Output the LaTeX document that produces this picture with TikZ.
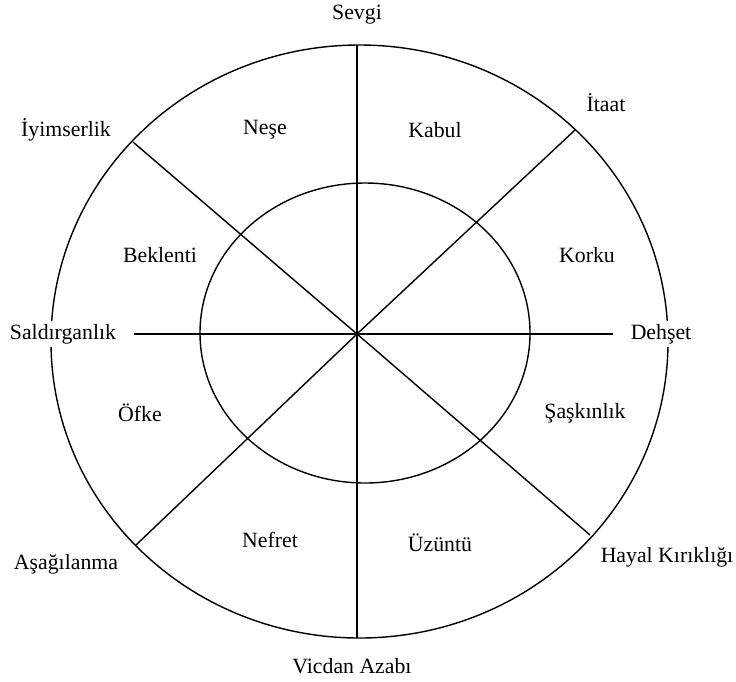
\documentclass[tikz,border=0pt]{standalone}
\usepackage{fontspec}
\setmainfont{Liberation Serif}
\usepackage{tikz}
\usetikzlibrary{positioning,calc}
\tikzset{
  wheelline/.style={draw=black, line width=0.8pt},
  emolabel/.style={font=\fontsize{12.4}{14}\selectfont, inner sep=2pt},
  outerlabel/.style={emolabel, fill=white},
}

\begin{document}
\begin{tikzpicture}[x=0.02cm, y=-0.02cm]
  \useasboundingbox (0,0) rectangle (736,681);

  % wheel
  \coordinate (c) at (357,334);
  \draw[wheelline] (359.5,341.5) ellipse [x radius=308.5, y radius=296.5];
  \draw[wheelline] (365,333) ellipse [x radius=165, y radius=150];

  % spoke ends on the outer ring
  \coordinate (top) at (357,45);
  \coordinate (bot) at (357,638);
  \coordinate (ne) at (575,130);
  \coordinate (nw) at (133,142);
  \coordinate (sw) at (136,545);
  \coordinate (se) at (590,535);

  \draw[wheelline] (top) -- (bot);
  \draw[wheelline] (nw) -- (c) -- (se);
  \draw[wheelline] (sw) -- (c) -- (ne);

  % labels outside
  \node[outerlabel] (sevgi) at (357,15)  {Sevgi};
  \node[outerlabel] (iyim)  at (66,130)  {İyimserlik};
  \node[outerlabel] (itaat) at (606,103) {İtaat};
  \node[outerlabel] (sald)  at (63,334)  {Saldırganlık};
  \node[outerlabel] (dehs)  at (661,334) {Dehşet};
  \node[outerlabel] (asag)  at (66,564)  {Aşağılanma};
  \node[outerlabel] (hayal) at (667,557) {Hayal Kırıklığı};
  \node[outerlabel] (vicd)  at (352,666) {Vicdan Azabı};

  \draw[wheelline, shorten <=8, shorten >=8] (sald) -- (dehs);

  % labels in the ring
  \node[emolabel] (nese)  at (265,130) {Neşe};
  \node[emolabel] (kabul) at (435,130) {Kabul};
  \node[emolabel] (bek)   at (160,255) {Beklenti};
  \node[emolabel] (korku) at (587,255) {Korku};
  \node[emolabel] (ofke)  at (140,413) {Öfke};
  \node[emolabel] (sask)  at (585,413) {Şaşkınlık};
  \node[emolabel] (nefr)  at (270,540) {Nefret};
  \node[emolabel] (uzun)  at (440,543) {Üzüntü};
\end{tikzpicture}
\end{document}
